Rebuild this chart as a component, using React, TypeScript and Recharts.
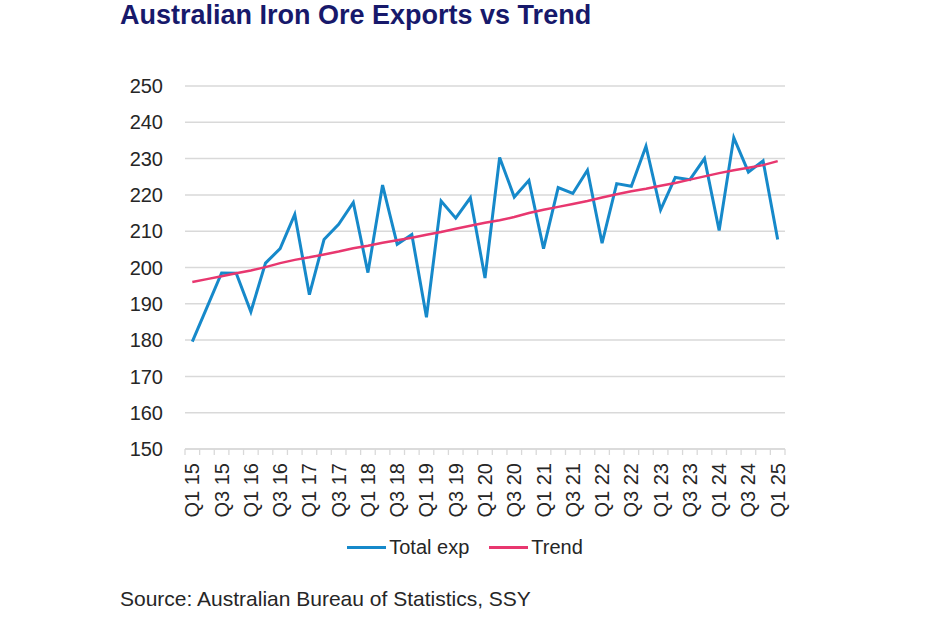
import React from 'react';
import { LineChart, Line, XAxis, YAxis, CartesianGrid, Legend } from 'recharts';

const quarters = [
  'Q1 15', 'Q2 15', 'Q3 15', 'Q4 15',
  'Q1 16', 'Q2 16', 'Q3 16', 'Q4 16',
  'Q1 17', 'Q2 17', 'Q3 17', 'Q4 17',
  'Q1 18', 'Q2 18', 'Q3 18', 'Q4 18',
  'Q1 19', 'Q2 19', 'Q3 19', 'Q4 19',
  'Q1 20', 'Q2 20', 'Q3 20', 'Q4 20',
  'Q1 21', 'Q2 21', 'Q3 21', 'Q4 21',
  'Q1 22', 'Q2 22', 'Q3 22', 'Q4 22',
  'Q1 23', 'Q2 23', 'Q3 23', 'Q4 23',
  'Q1 24', 'Q2 24', 'Q3 24', 'Q4 24',
  'Q1 25',
];

const totalExp = [
  179.6, 189.0, 198.5, 198.4,
  187.8, 201.2, 205.2, 214.6,
  192.5, 207.7, 211.9, 217.9,
  198.6, 222.7, 206.4, 209.1,
  186.3, 218.3, 213.6, 219.2,
  197.1, 230.3, 219.4, 224.0,
  205.2, 222.0, 220.4, 226.8,
  206.7, 223.1, 222.4, 233.4,
  215.9, 224.8, 224.2, 230.0,
  210.2, 235.8, 226.3, 229.4,
  207.7,
];

const trend = [
  196.0, 196.8, 197.6, 198.4,
  199.2, 200.1, 201.2, 202.1,
  202.8, 203.6, 204.4, 205.3,
  206.0, 206.8, 207.5, 208.2,
  209.0, 209.8, 210.7, 211.5,
  212.3, 213.0, 213.9, 215.0,
  215.9, 216.7, 217.5, 218.3,
  219.3, 220.2, 221.0, 221.7,
  222.5, 223.3, 224.2, 225.1,
  226.0, 226.8, 227.5, 228.2,
  229.3,
];

const yTicks = [150, 160, 170, 180, 190, 200, 210, 220, 230, 240, 250];

const chartData = quarters.map((q, i) => ({ q, total: totalExp[i], trend: trend[i] }));

const FONT = '"Liberation Sans", Arial, sans-serif';
const BLUE = '#1689CA';
const PINK = '#E8376F';
const GRID = '#D9D9D9';
const TEXT = '#262626';

const PLOT_WIDTH = 600;
const HALF_STEP = PLOT_WIDTH / quarters.length / 2;

const QuarterTick = (props: any) => {
  const { x, y, payload, index } = props;
  const last = index === quarters.length - 1;
  return (
    <g>
      <line x1={x - HALF_STEP} x2={x - HALF_STEP} y1={y} y2={y + 6} stroke={GRID} strokeWidth={1.3} />
      {last && (
        <line x1={x + HALF_STEP} x2={x + HALF_STEP} y1={y} y2={y + 6} stroke={GRID} strokeWidth={1.3} />
      )}
      {index % 2 === 0 && (
        <text
          x={x}
          y={y + 14}
          dy="0.35em"
          transform={`rotate(-90, ${x}, ${y + 14})`}
          textAnchor="end"
          fill={TEXT}
          fontSize={20}
          fontFamily={FONT}
        >
          {payload.value}
        </text>
      )}
    </g>
  );
};

const LegendContent = () => {
  const items = [
    { label: 'Total exp', color: BLUE },
    { label: 'Trend', color: PINK },
  ];
  return (
    <div style={{ display: 'flex', justifyContent: 'center', gap: 20, fontFamily: FONT, fontSize: 20, color: TEXT }}>
      {items.map(item => (
        <div key={item.label} style={{ display: 'flex', alignItems: 'center' }}>
          <span style={{ display: 'inline-block', width: 39, height: 3, background: item.color, marginRight: 3 }} />
          <span>{item.label}</span>
        </div>
      ))}
    </div>
  );
};

const App: React.FC = () => {
  return (
    <div style={{ position: 'absolute', left: 0, top: 0, width: 940, height: 627, background: '#fff', fontFamily: FONT }}>
      <div
        style={{
          position: 'absolute',
          left: 120,
          top: 2,
          fontSize: 27,
          lineHeight: 1,
          fontWeight: 'bold',
          color: '#17196B',
          whiteSpace: 'nowrap',
        }}
      >
        Australian Iron Ore Exports vs Trend
      </div>
      <LineChart
        width={940}
        height={627}
        data={chartData}
        margin={{ top: 86, right: 155, left: 125, bottom: 75 }}
      >
        <CartesianGrid vertical={false} stroke={GRID} strokeWidth={1.5} />
        <XAxis
          dataKey="q"
          height={80}
          interval={0}
          padding={{ left: HALF_STEP, right: HALF_STEP }}
          tickSize={0}
          tickMargin={0}
          tickLine={false}
          axisLine={{ stroke: GRID, strokeWidth: 1.5 }}
          tick={<QuarterTick />}
        />
        <YAxis
          width={60}
          domain={[150, 250]}
          ticks={yTicks}
          interval={0}
          axisLine={false}
          tickLine={false}
          tickMargin={16}
          tick={{ fill: TEXT, fontSize: 20, fontFamily: FONT }}
        />
        <Legend
          content={<LegendContent />}
          wrapperStyle={{ position: 'absolute', top: 536, left: 0, width: 930 }}
        />
        <Line
          type="linear"
          dataKey="total"
          name="Total exp"
          stroke={BLUE}
          strokeWidth={3}
          dot={false}
          isAnimationActive={false}
        />
        <Line
          type="linear"
          dataKey="trend"
          name="Trend"
          stroke={PINK}
          strokeWidth={2.5}
          dot={false}
          isAnimationActive={false}
        />
      </LineChart>
      <div
        style={{
          position: 'absolute',
          left: 120,
          top: 588,
          fontSize: 21,
          lineHeight: 1,
          color: TEXT,
          whiteSpace: 'nowrap',
        }}
      >
        Source: Australian Bureau of Statistics, SSY
      </div>
    </div>
  );
};

export default App;
